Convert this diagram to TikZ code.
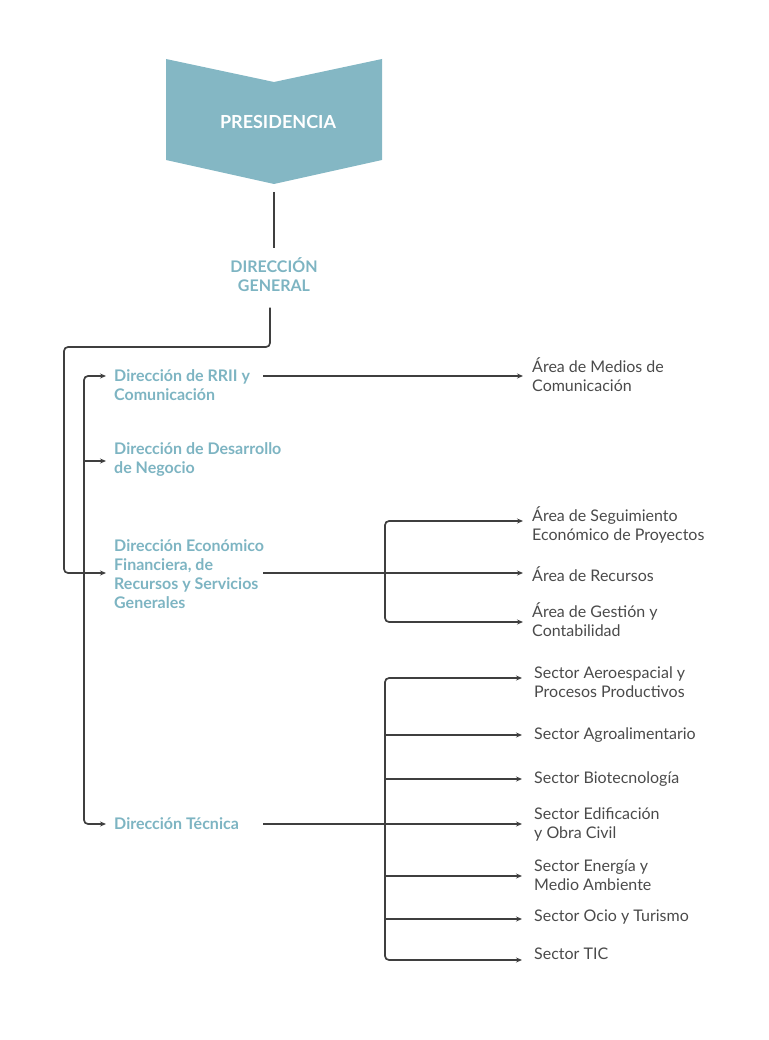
\documentclass[tikz,border=0pt]{standalone}
\usepackage{fontspec}
\setmainfont{Lato}
\usetikzlibrary{arrows.meta}
\definecolor{presfill}{HTML}{84B7C4}
\definecolor{tealtxt}{HTML}{7DB4C2}
\definecolor{graytxt}{HTML}{4A4A4A}
\definecolor{linec}{HTML}{3F3F3F}
\tikzset{
  conn/.style={draw=linec, line width=1.7pt},
  arr/.style={conn, -{Stealth[length=6pt,width=5pt]}, rounded corners=4pt},
  lefttxt/.style={anchor=west, inner sep=0pt, inner xsep=8pt, align=left, text=tealtxt,
    font=\fontsize{16}{19}\selectfont\bfseries},
  righttxt/.style={anchor=west, inner sep=0pt, inner xsep=9pt, align=left, text=graytxt,
    font=\fontsize{16}{19}\selectfont},
  sectxt/.style={righttxt, inner xsep=12pt},
}
\begin{document}
\begin{tikzpicture}[x=1pt,y=-1pt]
\useasboundingbox (0,0) rectangle (768,1040);
% Presidencia shape
\fill[presfill] (166,59) -- (274,82) -- (382,59) -- (382,160) -- (274,184) -- (166,160) -- cycle;
\node[text=white, font=\fontsize{18}{20}\selectfont\bfseries] (pres) at (278,122) {PRESIDENCIA};
\coordinate (prestip) at (274,184);
\node[align=center, inner sep=0pt, text=tealtxt, font=\fontsize{16}{19}\selectfont\bfseries] (dg) at (274,274.5) {DIRECCIÓN\\GENERAL};
\draw[conn] ([yshift=-8pt]prestip) -- ([yshift=9pt]dg.north);

% left labels
\node[lefttxt] (rrii) at (106,385.5) {Dirección de RRII y\\Comunicación};
\node[lefttxt] (desa) at (106,459.5) {Dirección de Desarrollo\\de Negocio};
\node[lefttxt] (econ) at (106,574.5) {Dirección Económico\\Financiera, de\\Recursos y Servicios\\Generales};
\node[lefttxt] (tec) at (106,824) {Dirección Técnica};

% right labels
\node[righttxt] (medios) at (523,374.5) {Área de Medios de\\Comunicación};
\node[righttxt] (seg) at (523,524.5) {Área de Seguimiento\\Económico de Proyectos};
\node[righttxt] (recu) at (523,574) {Área de Recursos};
\node[righttxt] (gest) at (523,620) {Área de Gestión y\\Contabilidad};
\node[sectxt] (aero) at (522,682.5) {Sector Aeroespacial y\\Procesos Productivos};
\node[sectxt] (agro) at (522,735) {Sector Agroalimentario};
\node[sectxt] (bio) at (522,779) {Sector Biotecnología};
\node[sectxt] (edif) at (522,824.5) {Sector Edificación\\y Obra Civil};
\node[sectxt] (ener) at (522,875.5) {Sector Energía y\\Medio Ambiente};
\node[sectxt] (ocio) at (522,917) {Sector Ocio y Turismo};
\node[sectxt] (tic) at (522,954) {Sector TIC};

% DG to Económico (outer bracket)
\draw[arr] ([xshift=-4pt,yshift=-16pt]dg.south) -- (270,347) -- (64,347) -- (64,573) -- (econ.west |- 0,573);
% inner bracket
\draw[arr] (84,600) |- (rrii.west |- 0,376);
\draw[arr] (84,600) |- (tec.west);
\draw[arr] (84,461) -- (desa.west |- 0,461);

% RRII
\draw[arr] (263,376) -- (medios.west |- 0,376);
% Económico
\draw[arr] (263,573) -- (recu.west |- 0,573);
\draw[arr] (385,573) |- (seg.west |- 0,521);
\draw[arr] (385,573) |- (gest.west |- 0,622);
% Técnica
\draw[arr] (263,824) -- (edif.west |- 0,824);
\draw[arr] (385,824) |- (aero.west |- 0,678);
\draw[arr] (385,735) -- (agro.west |- 0,735);
\draw[arr] (385,779) -- (bio.west |- 0,779);
\draw[arr] (385,876) -- (ener.west |- 0,876);
\draw[arr] (385,919) -- (ocio.west |- 0,919);
\draw[arr] (385,824) |- (tic.west |- 0,960);
\end{tikzpicture}
\end{document}
